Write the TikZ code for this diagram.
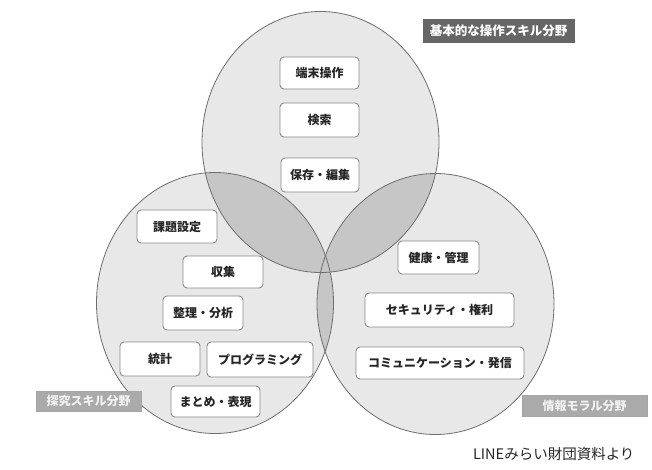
\documentclass[tikz,border=0pt]{standalone}
\usepackage{fontspec}
\setmainfont{Noto Sans CJK JP}
\definecolor{circfill}{HTML}{E8E8E8}
\definecolor{lensfill}{HTML}{C6C6C6}
\definecolor{circline}{HTML}{6E6E6E}
\definecolor{boxline}{HTML}{8A8A8A}
\definecolor{darklab}{HTML}{666666}
\definecolor{lightlab}{HTML}{AAAAAA}
\definecolor{labtext}{HTML}{F2F2F2}
\tikzset{
  skillbox/.style={draw=boxline, fill=white, rounded corners=4pt, line width=0.9pt,
    inner sep=0pt, font=\bfseries\fontsize{12}{14}\selectfont, text=black!85},
  darkfield/.style={draw=black!60, fill=darklab, line width=0.8pt, inner sep=0pt,
    font=\bfseries\fontsize{12.5}{14}\selectfont, text=white},
  lightfield/.style={draw=black!35, fill=lightlab, line width=0.6pt, inner sep=0pt,
    font=\bfseries\fontsize{12}{14}\selectfont, text=labtext},
  venn/.style={x radius=118.5pt, y radius=130.5pt}
}
\begin{document}
\begin{tikzpicture}[x=1pt,y=-1pt]
\useasboundingbox (0,0) rectangle (652,469);
\fill[white] (0,0) rectangle (652,469);
\coordinate (ct) at (320.5,142);
\coordinate (cl) at (215,303);
\coordinate (cr) at (435.5,304);
% circle fills
\fill[circfill] (ct) ellipse [venn];
\fill[circfill] (cl) ellipse [venn];
\fill[circfill] (cr) ellipse [venn];
% pairwise overlaps
\begin{scope}
  \clip (ct) ellipse [venn];
  \fill[lensfill] (cl) ellipse [venn];
  \fill[lensfill] (cr) ellipse [venn];
\end{scope}
\begin{scope}
  \clip (cl) ellipse [venn];
  \fill[lensfill] (cr) ellipse [venn];
\end{scope}
% outlines
\draw[circline, line width=0.8pt] (ct) ellipse [venn];
\draw[circline, line width=0.8pt] (cl) ellipse [venn];
\draw[circline, line width=0.8pt] (cr) ellipse [venn];
% top circle items
\node[skillbox, minimum width=79pt, minimum height=32pt] (t1) at (319.5,73) {端末操作};
\node[skillbox, minimum width=79pt, minimum height=34pt] (t2) at (319.5,120) {検索};
\node[skillbox, minimum width=78pt, minimum height=34pt] (t3) at (320,175) {保存・編集};
% left circle items
\node[skillbox, minimum width=80pt, minimum height=33pt] (l1) at (177,226.5) {課題設定};
\node[skillbox, minimum width=80pt, minimum height=32pt] (l2) at (223,272) {収集};
\node[skillbox, minimum width=80pt, minimum height=34pt] (l3) at (203,313) {整理・分析};
\node[skillbox, minimum width=80pt, minimum height=34pt] (l4) at (160,359) {統計};
\node[skillbox, minimum width=106pt, minimum height=35pt] (l5) at (260,359.5) {プログラミング};
\node[skillbox, minimum width=89pt, minimum height=31pt] (l6) at (215.5,401.5) {まとめ・表現};
% right circle items
\node[skillbox, minimum width=81pt, minimum height=33pt] (r1) at (438.5,257.5) {健康・管理};
\node[skillbox, minimum width=149pt, minimum height=34pt] (r2) at (439.5,310) {セキュリティ・権利};
\node[skillbox, minimum width=168pt, minimum height=32pt] (r3) at (440,363) {コミュニケーション・発信};
% field labels
\node[darkfield, minimum width=151pt, minimum height=23pt] (ft) at (498.5,30.5) {基本的な操作スキル分野};
\node[lightfield, minimum width=105pt, minimum height=20pt] (fl) at (88.5,401) {探究スキル分野};
\node[lightfield, minimum width=125pt, minimum height=21pt] (fr) at (584.5,405.5) {情報モラル分野};
% source
\node[font=\fontsize{14.5}{16}\selectfont, text=black!85, anchor=east] (src) at (638,454) {LINEみらい財団資料より};
\end{tikzpicture}
\end{document}
